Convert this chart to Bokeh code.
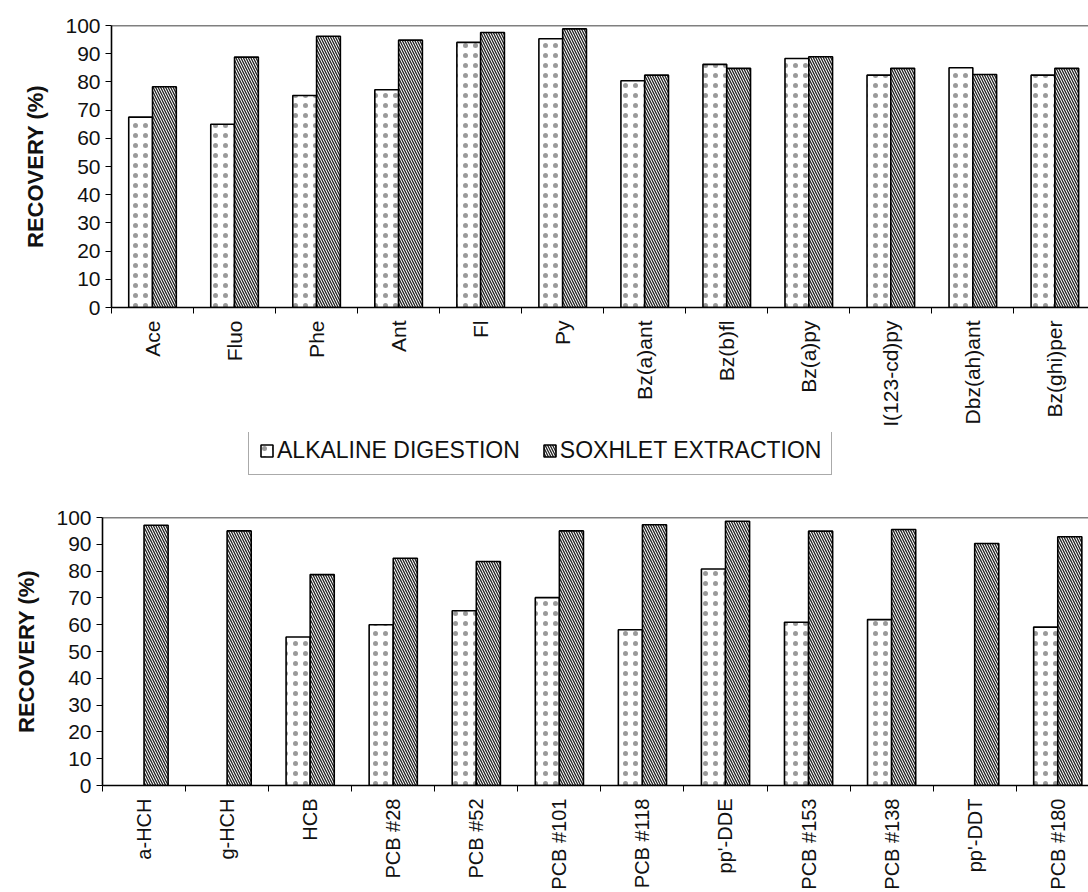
import numpy as np
from bokeh.plotting import figure
from bokeh.models import ColumnDataSource, FixedTicker, Range1d, Span, Legend, LegendItem
from bokeh.layouts import column, row
from bokeh.transform import dodge
from bokeh.embed import file_html
from bokeh.resources import INLINE

nan = float("nan")

pah_names = ["Ace", "Fluo", "Phe", "Ant", "Fl", "Py", "Bz(a)ant", "Bz(b)fl",
             "Bz(a)py", "I(123-cd)py", "Dbz(ah)ant", "Bz(ghi)per"]
pah_alkaline = [67.5, 65.0, 75.2, 77.2, 94.0, 95.3, 80.4, 86.2, 88.3, 82.4, 85.0, 82.4]
pah_soxhlet = [78.3, 88.8, 96.2, 94.8, 97.5, 98.8, 82.4, 84.8, 88.9, 84.8, 82.6, 84.8]

oc_names = ["a-HCH", "g-HCH", "HCB", "PCB #28", "PCB #52", "PCB #101", "PCB #118",
            "pp'-DDE", "PCB #153", "PCB #138", "pp'-DDT", "PCB #180"]
oc_alkaline = [nan, nan, 55.4, 60.0, 65.2, 70.1, 58.1, 80.8, 60.9, 61.9, nan, 59.1]
oc_soxhlet = [97.1, 95.0, 78.7, 84.8, 83.6, 95.0, 97.3, 98.6, 94.9, 95.5, 90.3, 92.8]

y_ticks = list(range(0, 101, 10))
series_labels = ["ALKALINE DIGESTION", "SOXHLET EXTRACTION"]

FONT = "Liberation Sans"
INK = "#111111"

ALK_STYLE = dict(fill_color="white", line_color="black", line_width=1.6,
                 hatch_pattern=".", hatch_scale=10, hatch_weight=1.0, hatch_color="#9a9a9a")
SOX_STYLE = dict(fill_color="white", line_color="black", line_width=1.6,
                 hatch_pattern="\\", hatch_scale=5, hatch_weight=1.3, hatch_color="#222222")


def make_chart(names, alk, sox, height, b_left, b_top, b_bottom, x_end, xlab_size):
    n = len(names)
    x = np.arange(n) + 0.5
    src = ColumnDataSource(dict(x=x, alk=alk, sox=sox))
    p = figure(width=1088, height=height, x_range=Range1d(0, x_end), y_range=Range1d(0, 100),
               output_backend="svg", toolbar_location=None,
               min_border_left=b_left, min_border_right=0,
               min_border_top=b_top, min_border_bottom=b_bottom)
    p.outline_line_color = None
    p.grid.visible = False
    p.background_fill_color = "white"

    p.vbar(x=dodge("x", -0.145), top="alk", width=0.29, source=src, **ALK_STYLE)
    p.vbar(x=dodge("x", 0.145), top="sox", width=0.29, source=src, **SOX_STYLE)

    p.add_layout(Span(location=100, dimension="width", line_color="black", line_width=1.6))

    xa = p.xaxis[0]
    xa.ticker = FixedTicker(ticks=list(x), minor_ticks=list(range(n + 1)))
    xa.major_label_overrides = {float(xi): nm for xi, nm in zip(x, names)}
    xa.major_tick_line_color = None
    xa.major_tick_out = 6
    xa.major_tick_in = 0
    xa.minor_tick_out = 6
    xa.minor_tick_in = 0
    xa.minor_tick_line_color = "black"
    xa.minor_tick_line_width = 1
    xa.axis_line_color = "black"
    xa.axis_line_width = 1.6
    xa.major_label_orientation = np.pi / 2
    xa.major_label_standoff = 7
    xa.major_label_text_font = FONT
    xa.major_label_text_font_size = xlab_size
    xa.major_label_text_color = INK

    ya = p.yaxis[0]
    ya.ticker = FixedTicker(ticks=y_ticks)
    ya.minor_tick_line_color = None
    ya.major_tick_out = 6
    ya.major_tick_in = 0
    ya.major_tick_line_color = "black"
    ya.axis_line_color = "black"
    ya.axis_line_width = 1.6
    ya.major_label_standoff = 5
    ya.major_label_text_font = FONT
    ya.major_label_text_font_size = "21px"
    ya.major_label_text_color = INK
    ya.axis_label = "RECOVERY (%)"
    ya.axis_label_text_font = FONT
    ya.axis_label_text_font_style = "bold"
    ya.axis_label_text_font_size = "22px"
    ya.axis_label_text_color = INK
    ya.axis_label_standoff = 14
    return p


p1 = make_chart(pah_names, pah_alkaline, pah_soxhlet, 432, 111, 25, 125, 11.91, "21px")

# legend strip between the two charts
pl = figure(width=1088, height=46, x_range=Range1d(0, 1), y_range=Range1d(0, 1),
            output_backend="svg", toolbar_location=None, min_border=0,
            min_border_left=0, min_border_right=0, min_border_top=0, min_border_bottom=0,
            x_axis_type=None, y_axis_type=None)
pl.outline_line_color = None
pl.grid.visible = False
ra = pl.vbar(x=[nan], top=[nan], width=0.1, **ALK_STYLE)
rs = pl.vbar(x=[nan], top=[nan], width=0.1, **SOX_STYLE)
legend = Legend(items=[LegendItem(label=series_labels[0], renderers=[ra]),
                       LegendItem(label=series_labels[1], renderers=[rs])],
                location=(248, 3), orientation="horizontal")
legend.label_text_font = FONT
legend.label_text_font_size = "23px"
legend.label_text_color = INK
legend.glyph_width = 15
legend.glyph_height = 15
legend.label_standoff = 3
legend.spacing = 22
legend.padding = 10
legend.margin = 0
legend.border_line_color = "#555555"
legend.border_line_width = 1
pl.add_layout(legend)

p2 = make_chart(oc_names, oc_alkaline, oc_soxhlet, 414, 102, 39, 95, 11.87, "20px")

layout = column(row(p1), row(pl), row(p2), spacing=0)
open("out.html", "w").write(file_html(layout, INLINE))
